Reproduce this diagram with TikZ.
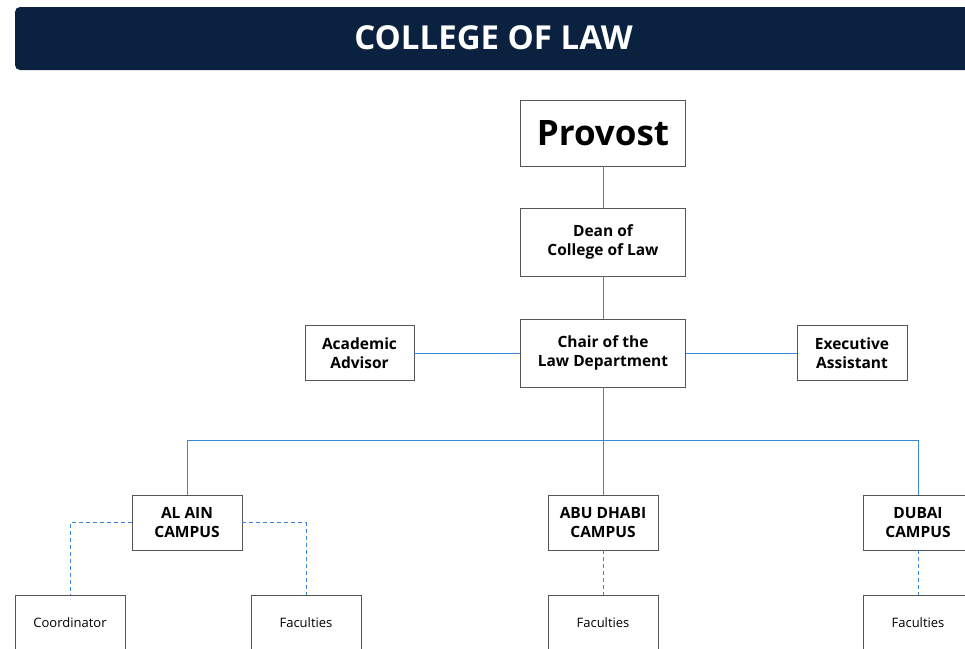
\documentclass[tikz,border=0pt]{standalone}
\usepackage{fontspec}
\setmainfont{Open Sans}
\definecolor{titlebg}{HTML}{0A213F}
\definecolor{linkblue}{HTML}{3A86DA}
\definecolor{boxgray}{HTML}{555555}
\tikzset{
  orgbox/.style={draw=boxgray, line width=0.9pt, fill=white, align=center, inner sep=0pt,
    minimum width=110pt, minimum height=55pt, font=\bfseries\fontsize{15.5}{19}\selectfont},
  leafbox/.style={orgbox, font=\fontsize{13}{16}\selectfont},
  link/.style={draw=linkblue, line width=1pt},
  dlink/.style={link, dash pattern=on 4pt off 3pt},
}
\begin{document}
\begin{tikzpicture}[x=1pt,y=-1pt]
\useasboundingbox (0,0) rectangle (965,648);
\clip (0,0) rectangle (965,648);
\fill[titlebg, rounded corners=5pt] (15,7) rectangle (990,70);
\node[text=white, font=\bfseries\fontsize{33}{36}\selectfont] (title) at (493.5,38) {COLLEGE OF LAW};

\node[orgbox, minimum width=165pt, minimum height=66pt, font=\bfseries\fontsize{35}{38}\selectfont] (provost) at (603,133) {Provost};
\node[orgbox, minimum width=165pt, minimum height=68pt] (dean) at (603,242) {Dean of\\College of Law};
\node[orgbox, minimum width=165pt, minimum height=68pt] (chair) at (603,353) {Chair of the\\Law Department};
\node[orgbox, minimum width=109pt] (advisor) at (359.5,353) {Academic\\Advisor};
\node[orgbox] (exec) at (852,353) {Executive\\Assistant};

\node[orgbox] (alain) at (187,522.5) {AL AIN\\CAMPUS};
\node[orgbox] (abudhabi) at (603,522.5) {ABU DHABI\\CAMPUS};
\node[orgbox] (dubai) at (918,522.5) {DUBAI\\CAMPUS};

\node[leafbox] (coord) at (70,622.5) {Coordinator};
\node[leafbox] (facA) at (306,622.5) {Faculties};
\node[leafbox] (facB) at (603,622.5) {Faculties};
\node[leafbox] (facC) at (918,622.5) {Faculties};

\coordinate (bus) at (603,440);

\draw[link] (provost) -- (dean);
\draw[link] (dean) -- (chair);
\draw[link] (chair.west) -- (chair.west -| advisor.east);
\draw[link] (chair.east) -- (chair.east -| exec.west);
\draw[link] (chair.south) -- (bus);
\draw[link] (bus) -- (abudhabi.north);
\draw[link] (bus) -| (alain.north);
\draw[link] (bus) -| (dubai.north);

\draw[dlink] (alain.west) -| (coord.north);
\draw[dlink] (alain.east) -| (facA.north);
\draw[dlink] (abudhabi) -- (facB);
\draw[dlink] (dubai) -- (facC);
\end{tikzpicture}
\end{document}
